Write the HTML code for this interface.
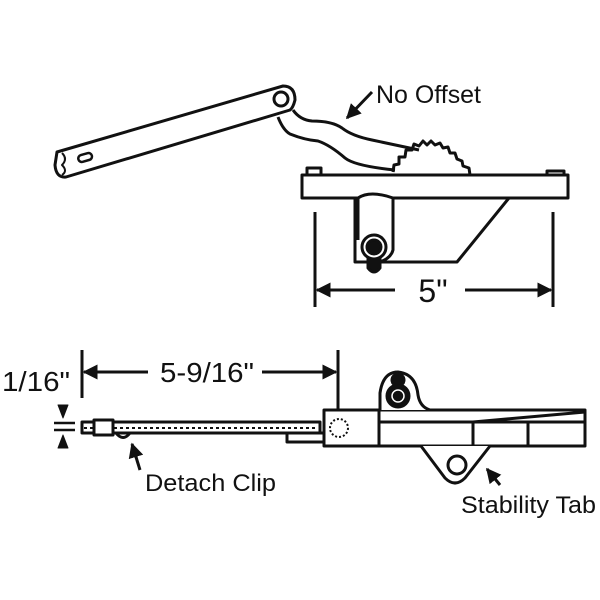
<!DOCTYPE html>
<html><head><style>html,body{margin:0;padding:0;background:#fff}svg{display:block}text{font-family:"Liberation Sans",sans-serif;fill:#111}</style></head><body>
<svg width="600" height="600" viewBox="0 0 600 600" xmlns="http://www.w3.org/2000/svg">
<defs><marker id="ah" viewBox="0 0 10 10" refX="9" refY="5" markerWidth="5" markerHeight="5" orient="auto-start-reverse"><path d="M0,0 L10,5 L0,10 z" fill="#111"/></marker></defs>
<g fill="none" stroke="#111" stroke-width="3" stroke-linejoin="round">
<path d="M57,152 L283,86 Q295,86 295,100 Q293,108 290,110 L66,177 Q56,178 55,165 Z" fill="#fff"/>
<circle cx="281" cy="99" r="7"/>
<rect x="78" y="154" width="14" height="7" rx="3.5" transform="rotate(-16 85 157)" stroke-width="2.5"/>
<path d="M62,153 q6,6 0,12 q6,6 0,10" stroke-width="2"/>
<path d="M293,110 Q300,120 312,121 Q332,121 342,128 Q352,136 372,140 L419,150"/>
<path d="M278,117 Q283,130 290,134 Q305,140 318,141 Q330,145 345,158 Q355,166 395,170"/>
<path d="M393,172 L394,165 L399,164 L399,157 L405,157 L406,150 L412,150 L414,144 L419,146 L423,141 L427,145 L431,141 L435,145 L440,143 L443,148 L448,147 L450,153 L455,153 L457,159 L462,161 L463,166 L469,168 L470,175"/>
<rect x="302" y="175" width="266" height="23" fill="#fff"/>
<rect x="307" y="168" width="14" height="7"/>
<rect x="547" y="171" width="17" height="4"/>
<path d="M355,198 L355,262 L457,262 L509,198"/>
<path d="M358,198 Q370,190 393,198 L393,250 Q391,258 380,262" fill="#fff"/>
<path d="M358,198 L358,240"/>
<circle cx="374" cy="247" r="12" fill="#fff"/>
<circle cx="374" cy="247" r="7" fill="#111"/>
<path d="M368,258 L368,268 Q374,276 380,268 L380,258" fill="#111"/>
<line x1="315" y1="212" x2="315" y2="307"/>
<line x1="553" y1="212" x2="553" y2="307"/>
<line x1="317" y1="290" x2="395" y2="290" marker-start="url(#ah)"/>
<line x1="465" y1="290" x2="551" y2="290" marker-end="url(#ah)"/>
<line x1="372" y1="92" x2="347" y2="118" marker-end="url(#ah)"/>
<line x1="82" y1="350" x2="82" y2="398"/>
<line x1="338" y1="350" x2="338" y2="447"/>
<line x1="84" y1="372" x2="148" y2="372" marker-start="url(#ah)"/>
<line x1="262" y1="372" x2="336" y2="372" marker-end="url(#ah)"/>
<line x1="54" y1="423" x2="75" y2="423" stroke-width="2.5"/>
<line x1="54" y1="430" x2="75" y2="430" stroke-width="2.5"/>
<path d="M58,405 L68,405 L63,418 Z" fill="#111" stroke-width="1"/>
<path d="M58,448 L68,448 L63,435 Z" fill="#111" stroke-width="1"/>
<rect x="82" y="422" width="238" height="11" fill="#fff"/>
<line x1="84" y1="428" x2="318" y2="428" stroke-width="2" stroke-dasharray="3,3"/>
<rect x="94" y="420" width="19" height="15" fill="#fff"/>
<path d="M116,433 Q123,442 130,433"/>
<rect x="287" y="433" width="38" height="9"/>
<rect x="324" y="410" width="261" height="36" fill="#fff"/>
<line x1="379" y1="410" x2="379" y2="446"/>
<line x1="379" y1="422" x2="585" y2="422"/>
<line x1="473" y1="422" x2="473" y2="446"/>
<line x1="528" y1="422" x2="528" y2="446"/>
<path d="M473,422 L585,412"/>
<circle cx="339" cy="428" r="9" stroke-width="2" stroke-dasharray="2,2"/>
<path d="M380,410 L380,393 Q383,372 398,372 Q416,374 418,395 Q420,407 430,410" fill="#fff"/>
<circle cx="398" cy="396" r="11" fill="#111"/>
<circle cx="398" cy="396" r="6" stroke="#fff" stroke-width="1.5"/>
<circle cx="398" cy="380" r="6" fill="#111"/>
<path d="M421,446 L445,478 Q455,488 465,478 L490,446" fill="#fff"/>
<circle cx="457" cy="465" r="9"/>
<line x1="140" y1="470" x2="132" y2="444" marker-end="url(#ah)"/>
<line x1="500" y1="485" x2="487" y2="469" marker-end="url(#ah)"/>
</g>
<text x="376" y="103" font-size="25" textLength="105" lengthAdjust="spacingAndGlyphs">No Offset</text>
<text x="433" y="302" font-size="32" text-anchor="middle">5"</text>
<text x="2" y="391" font-size="28" textLength="68" lengthAdjust="spacingAndGlyphs">1/16"</text>
<text x="160" y="382" font-size="28" textLength="94" lengthAdjust="spacingAndGlyphs">5-9/16"</text>
<text x="145" y="491" font-size="24" textLength="131" lengthAdjust="spacingAndGlyphs">Detach Clip</text>
<text x="461" y="513" font-size="24" textLength="135" lengthAdjust="spacingAndGlyphs">Stability Tab</text>
</svg>
</body></html>
